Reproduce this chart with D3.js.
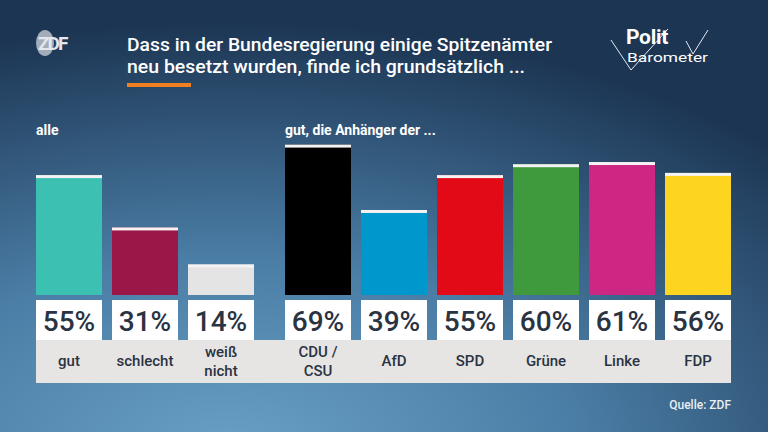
<!doctype html>
<html lang="de">
<head>
<meta charset="utf-8">
<script src="https://d3js.org/d3.v7.min.js"></script>
<style>
  html, body { margin:0; padding:0; background:#2b4a6b; }
  svg { display:block; }
  text { font-family: Roboto, "Open Sans", sans-serif; }
</style>
</head>
<body>
<div id="chart"></div>
<script>
// data
var categories = ["gut", "schlecht", "weiß\nnicht", "CDU/\nCSU", "AfD", "SPD", "Grüne", "Linke", "FDP"];
var values = [55, 31, 14, 69, 39, 55, 60, 61, 56];
var colors = ["#3cc0b1", "#9b1747", "#e5e4e4", "#000000", "#0098cc", "#e30a17", "#3f9a3e", "#cd2783", "#fdd520"];
var groups = ["alle", "alle", "alle", "partei", "partei", "partei", "partei", "partei", "partei"];

var width = 768, height = 432;

var svg = d3.select("#chart").append("svg")
  .attr("width", width)
  .attr("height", height);

var defs = svg.append("defs");
var grad = defs.append("radialGradient")
  .attr("id", "bg")
  .attr("cx", "0.3").attr("cy", "1.05").attr("r", "1.0");
grad.append("stop").attr("offset", "0%").attr("stop-color", "#6aa0c5");
grad.append("stop").attr("offset", "45%").attr("stop-color", "#4b7ea6");
grad.append("stop").attr("offset", "100%").attr("stop-color", "#1c3553");

svg.append("rect").attr("width", width).attr("height", height).attr("fill", "url(#bg)");

// header
var logo = svg.append("g");
logo.append("ellipse").attr("cx", 45).attr("cy", 43).attr("rx", 9).attr("ry", 13).attr("fill", "#a3adba");
logo.append("text").attr("x", 38).attr("y", 50).attr("fill", "#e4e7eb")
  .attr("font-size", 19).attr("font-weight", 700).attr("letter-spacing", -2).text("ZDF");

svg.append("text").attr("x", 127).attr("y", 51).attr("fill", "#ffffff")
  .attr("font-size", 18).attr("font-weight", 500)
  .attr("textLength", 425).attr("lengthAdjust", "spacingAndGlyphs")
  .text("Dass in der Bundesregierung einige Spitzenämter");
svg.append("text").attr("x", 127).attr("y", 73).attr("fill", "#ffffff")
  .attr("font-size", 18).attr("font-weight", 500)
  .attr("textLength", 398).attr("lengthAdjust", "spacingAndGlyphs")
  .text("neu besetzt wurden, finde ich grundsätzlich ...");
svg.append("rect").attr("x", 127).attr("y", 83).attr("width", 64).attr("height", 4).attr("fill", "#f07f1f");

// politbarometer logo
var pb = svg.append("g");
pb.append("path").attr("d", "M611,40 L631,70 L668,29 M686,41 L693,54 L708,30")
  .attr("fill", "none").attr("stroke", "#e6eaf0").attr("stroke-width", 1);
pb.append("text").attr("x", 626).attr("y", 44).attr("fill", "#ffffff")
  .attr("font-size", 21).attr("font-weight", 700).attr("letter-spacing", -0.3).text("Polit");
pb.append("text").attr("x", 627).attr("y", 62).attr("fill", "#ffffff")
  .attr("font-size", 13).attr("textLength", 81).attr("lengthAdjust", "spacingAndGlyphs").text("Barometer");

// scales
var step = 76, bw = 66;
var xs = d3.scaleLinear().domain([0, 1]).range([0, step]);
function barX(i) { return 36 + xs(i) + (groups[i] === "partei" ? 21 : 0); }

var baseY = 295;
var y = d3.scaleLinear().domain([0, 100]).range([baseY, baseY - 218]);

svg.append("text").attr("x", 36).attr("y", 135).attr("fill", "#fff")
  .attr("font-size", 14).attr("font-weight", 700).text("alle");
svg.append("text").attr("x", 285).attr("y", 135).attr("fill", "#fff")
  .attr("font-size", 14).attr("font-weight", 700).text("gut, die Anhänger der ...");

// label band
svg.append("rect").attr("x", 36).attr("y", 340)
  .attr("width", barX(categories.length - 1) + bw - 36).attr("height", 43)
  .attr("fill", "#e6e5e4");

var bars = svg.selectAll("g.bar").data(values).enter().append("g").attr("class", "bar");

bars.append("rect")
  .attr("x", function(d, i) { return barX(i); })
  .attr("y", function(d) { return y(d); })
  .attr("width", bw)
  .attr("height", function(d) { return baseY - y(d); })
  .attr("fill", function(d, i) { return colors[i]; });

bars.append("rect")
  .attr("x", function(d, i) { return barX(i); })
  .attr("y", function(d) { return y(d); })
  .attr("width", bw).attr("height", 3)
  .attr("fill", "#f4f2f2");

bars.append("rect")
  .attr("x", function(d, i) { return barX(i); })
  .attr("y", 300).attr("width", bw).attr("height", 40)
  .attr("fill", "#ffffff");

bars.append("text")
  .attr("x", function(d, i) { return barX(i) + bw / 2; })
  .attr("y", 331)
  .attr("text-anchor", "middle")
  .attr("fill", "#2a3342")
  .attr("font-size", 28).attr("font-weight", 500)
  .text(function(d) { return d + "%"; });

bars.each(function(d, i) {
  var lines = categories[i].split("\n");
  var g = d3.select(this);
  var cx = barX(i) + bw / 2;
  var y0 = lines.length === 1 ? 366 : 357;
  lines.forEach(function(l, k) {
    g.append("text").attr("x", cx).attr("y", y0 + k * 19)
      .attr("text-anchor", "middle").attr("fill", "#2a3342")
      .attr("font-size", 15).attr("font-weight", 500)
      .text(l.replace("/", " /"));
  });
});

svg.append("text").attr("x", 731).attr("y", 409).attr("text-anchor", "end")
  .attr("fill", "#e8eef4").attr("font-size", 12).attr("font-weight", 500).text("Quelle: ZDF");
</script>
</body>
</html>
